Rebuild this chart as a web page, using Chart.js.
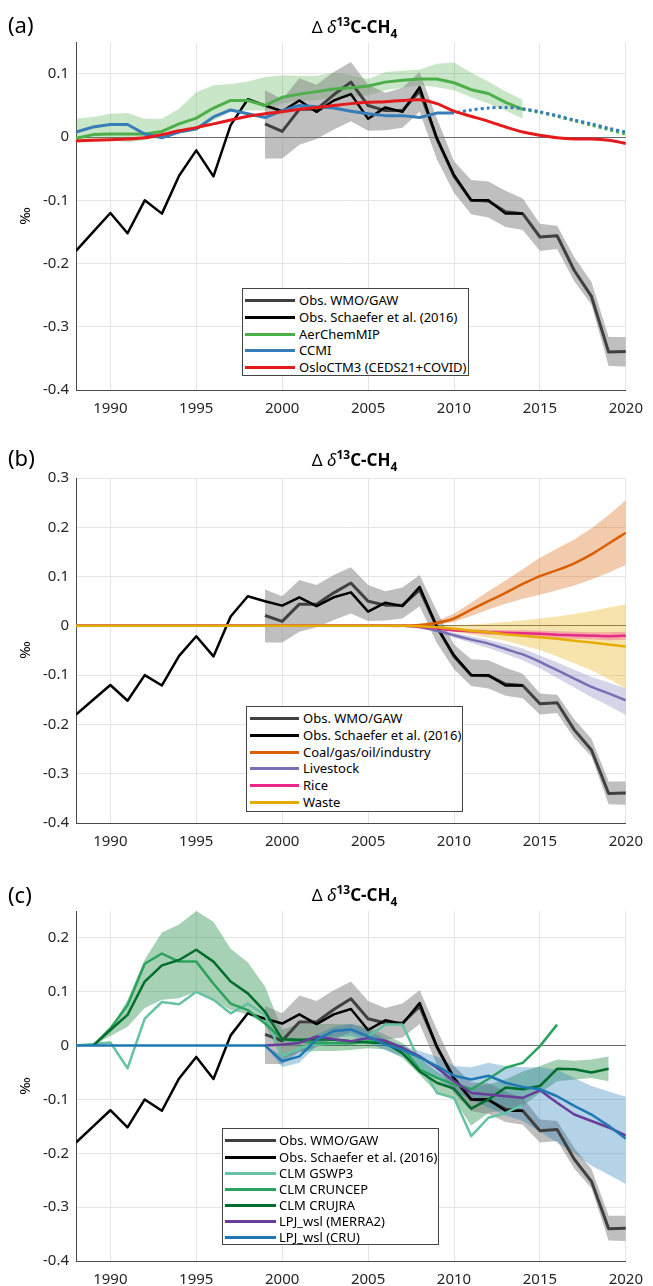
<!DOCTYPE html>
<html><head><meta charset="utf-8">
<script src="https://cdn.jsdelivr.net/npm/chart.js"></script>
<style>
html,body{margin:0;padding:0;background:#fff;}
body{width:653px;height:1286px;position:relative;overflow:hidden;font-family:"Noto Sans",sans-serif;color:#000;}
canvas{position:absolute;left:0;}
.lab{position:absolute;left:8px;font-size:22px;line-height:22px;}
.title{position:absolute;left:76px;width:557px;text-align:center;font-size:17px;line-height:20px;white-space:nowrap;}
.title sup,.title sub{font-size:12px;line-height:0;position:relative;vertical-align:baseline;}
.title sup{top:-0.6em;}
.title sub{top:0.4em;}
.unit{position:absolute;left:14px;width:20px;height:20px;line-height:20px;text-align:center;font-size:15px;transform:rotate(-90deg);}
.legend{position:absolute;background:#fff;border:1px solid #444;box-sizing:border-box;}
.legend .row{position:absolute;left:0;height:16px;display:flex;align-items:center;font-size:13px;white-space:nowrap;}
.legend .sw{height:3px;}
</style></head><body>
<canvas id="ca" width="653" height="425" style="top:0px;width:653px;height:425px"></canvas>
<canvas id="cb" width="653" height="425" style="top:430px;width:653px;height:425px"></canvas>
<canvas id="cc" width="653" height="426" style="top:860px;width:653px;height:426px"></canvas>

<div class="lab" style="top:13px">(a)</div>
<div class="lab" style="top:446px">(b)</div>
<div class="lab" style="top:883px">(c)</div>
<div class="title" style="top:17px"><span>Δ</span> <i>δ</i><b><sup>13</sup>C-CH<sub>4</sub></b></div>
<div class="title" style="top:450px"><span>Δ</span> <i>δ</i><b><sup>13</sup>C-CH<sub>4</sub></b></div>
<div class="title" style="top:885px"><span>Δ</span> <i>δ</i><b><sup>13</sup>C-CH<sub>4</sub></b></div>
<div class="unit" style="top:206px">‰</div>
<div class="unit" style="top:640px">‰</div>
<div class="unit" style="top:1076px">‰</div>
<div id="lega" class="legend"></div>
<div id="legb" class="legend"></div>
<div id="legc" class="legend"></div>

<script>
// ---------- categories / ticks ----------
const years = [1988,1989,1990,1991,1992,1993,1994,1995,1996,1997,1998,1999,2000,2001,2002,2003,2004,2005,2006,2007,2008,2009,2010,2011,2012,2013,2014,2015,2016,2017,2018,2019,2020];
const xTicks = [1990,1995,2000,2005,2010,2015,2020];
const yTicksA = [-0.4,-0.3,-0.2,-0.1,0,0.1];
const yTicksB = [-0.4,-0.3,-0.2,-0.1,0,0.1,0.2,0.3];
const yTicksC = [-0.4,-0.3,-0.2,-0.1,0,0.1,0.2];

// ---------- observations ----------
const obsSchaefer = [-0.180,-0.150,-0.120,-0.152,-0.100,-0.121,-0.061,-0.021,-0.062,0.019,0.060,0.050,0.041,0.058,0.040,0.058,0.068,0.029,0.047,0.040,0.079,-0.002,-0.060,-0.100,-0.100,-0.121,-0.121,null,null,null,null,null,null];
const obsWMO = [null,null,null,null,null,null,null,null,null,null,null,0.021,0.009,0.044,0.044,0.067,0.087,0.050,0.042,0.042,0.073,-0.002,-0.062,-0.100,-0.101,-0.118,-0.121,-0.158,-0.156,-0.211,-0.252,-0.340,-0.339];
const obsWMOHi = [null,null,null,null,null,null,null,null,null,null,null,0.074,0.060,0.093,0.083,0.103,0.119,0.083,0.070,0.078,0.103,0.030,-0.038,-0.068,-0.070,-0.085,-0.097,-0.137,-0.140,-0.190,-0.229,-0.316,-0.316];
const obsWMOLo = [null,null,null,null,null,null,null,null,null,null,null,-0.034,-0.034,-0.012,-0.003,0.012,0.025,0.010,0.011,0.015,0.040,-0.035,-0.088,-0.122,-0.127,-0.142,-0.147,-0.180,-0.177,-0.228,-0.265,-0.362,-0.363];

// ---------- panel (a) ----------
const aerLine = [-0.002,0.004,0.005,0.005,0.005,0.009,0.021,0.030,0.046,0.058,0.058,0.050,0.063,0.068,0.072,0.076,0.078,0.081,0.087,0.090,0.092,0.092,0.086,0.075,0.069,0.055,0.044,null,null,null,null,null,null];
const aerHi = [0.029,0.032,0.037,0.038,0.029,0.029,0.045,0.071,0.082,0.084,0.088,0.095,0.098,0.097,0.097,0.102,0.098,0.092,0.103,0.105,0.107,0.116,0.118,0.102,0.088,0.072,0.059,null,null,null,null,null,null];
const aerLo = [-0.005,-0.004,-0.004,-0.008,-0.005,0.000,0.006,0.013,0.026,0.040,0.042,0.042,0.053,0.058,0.058,0.063,0.063,0.066,0.074,0.078,0.082,0.079,0.074,0.063,0.053,0.042,0.029,null,null,null,null,null,null];
const aerDot = [null,null,null,null,null,null,null,null,null,null,null,null,null,null,null,null,null,null,null,null,null,null,null,null,null,null,0.044,0.039,0.033,0.026,0.019,0.012,0.005];
const ccmiLine = [0.008,0.016,0.020,0.020,0.005,-0.001,0.008,0.013,0.032,0.043,0.037,0.031,0.042,0.050,0.048,0.046,0.041,0.037,0.034,0.034,0.031,0.038,0.038,null,null,null,null,null,null,null,null,null,null];
const ccmiDot = [null,null,null,null,null,null,null,null,null,null,null,null,null,null,null,null,null,null,null,null,null,null,0.038,0.043,0.046,0.047,0.045,0.040,0.034,0.027,0.021,0.014,0.008];
const osloLine = [-0.006,-0.005,-0.004,-0.003,-0.001,0.004,0.010,0.015,0.021,0.027,0.033,0.037,0.040,0.044,0.047,0.050,0.053,0.055,0.056,0.058,0.059,0.053,0.041,0.033,0.025,0.016,0.008,0.003,-0.001,-0.003,-0.003,-0.005,-0.010];

// ---------- panel (b) ----------
const coalLine = [0,0,0,0,0,0,0,0,0,0,0,0,0,0,0,0,0,0,0,0,0.002,0.006,0.015,0.033,0.050,0.067,0.085,0.101,0.113,0.127,0.145,0.167,0.189];
const coalHi = [null,null,null,null,null,null,null,null,null,null,null,null,null,null,null,null,null,null,null,0,0.004,0.010,0.025,0.047,0.070,0.092,0.115,0.138,0.157,0.175,0.198,0.225,0.255];
const coalLo = [null,null,null,null,null,null,null,null,null,null,null,null,null,null,null,null,null,null,null,0,0,0.002,0.008,0.020,0.033,0.045,0.055,0.063,0.072,0.082,0.094,0.108,0.124];
const liveLine = [0,0,0,0,0,0,0,0,0,0,0,0,0,0,0,0,0,0,0,0,-0.003,-0.010,-0.019,-0.028,-0.036,-0.047,-0.058,-0.073,-0.090,-0.107,-0.124,-0.137,-0.151];
const liveHi = [null,null,null,null,null,null,null,null,null,null,null,null,null,null,null,null,null,null,null,0,-0.002,-0.007,-0.014,-0.021,-0.028,-0.037,-0.046,-0.060,-0.074,-0.089,-0.104,-0.115,-0.127];
const liveLo = [null,null,null,null,null,null,null,null,null,null,null,null,null,null,null,null,null,null,null,0,-0.004,-0.012,-0.024,-0.035,-0.045,-0.057,-0.070,-0.086,-0.106,-0.125,-0.145,-0.162,-0.181];
const riceLine = [0,0,0,0,0,0,0,0,0,0,0,0,0,0,0,0,0,0,0,0,-0.002,-0.005,-0.009,-0.011,-0.013,-0.014,-0.015,-0.016,-0.018,-0.019,-0.020,-0.021,-0.020];
const riceHi = [null,null,null,null,null,null,null,null,null,null,null,null,null,null,null,null,null,null,null,0,-0.001,-0.003,-0.006,-0.007,-0.008,-0.009,-0.009,-0.010,-0.011,-0.012,-0.013,-0.013,-0.012];
const riceLo = [null,null,null,null,null,null,null,null,null,null,null,null,null,null,null,null,null,null,null,0,-0.003,-0.007,-0.012,-0.015,-0.018,-0.019,-0.021,-0.022,-0.025,-0.026,-0.027,-0.029,-0.028];
const wasteLine = [0,0,0,0,0,0,0,0,0,0,0,0,0,0,0,0,0,0,0,0,-0.001,-0.003,-0.006,-0.010,-0.013,-0.017,-0.020,-0.023,-0.026,-0.030,-0.034,-0.038,-0.042];
const wasteHi = [null,null,null,null,null,null,null,null,null,null,null,null,null,null,null,null,null,null,null,0,0,0,0.001,0.003,0.005,0.008,0.011,0.015,0.019,0.024,0.030,0.037,0.044];
const wasteLo = [null,null,null,null,null,null,null,null,null,null,null,null,null,null,null,null,null,null,null,0,-0.003,-0.007,-0.012,-0.018,-0.024,-0.030,-0.040,-0.049,-0.062,-0.076,-0.090,-0.108,-0.127];

// ---------- panel (c) ----------
const clmGSWP3 = [0,0.003,0.006,-0.042,0.050,0.081,0.077,0.100,0.085,0.060,0.078,0.057,-0.020,-0.004,0.002,0.004,0.005,0.017,0.039,0.039,-0.030,-0.088,-0.097,-0.168,-0.134,-0.125,-0.110,null,null,null,null,null,null];
const clmCRUNCEP = [null,0,0.032,0.075,0.152,0.171,0.156,0.156,0.115,0.078,0.066,0.041,0.012,0.008,0.005,0.005,0.004,0.008,0.006,-0.004,-0.044,-0.060,-0.072,-0.081,-0.062,-0.041,-0.032,-0.001,0.039,null,null,null,null];
const clmCRUJRA = [null,0,0.029,0.057,0.119,0.149,0.159,0.178,0.156,0.119,0.097,0.063,0.012,0.011,0.012,0.011,0.008,0.006,0.005,-0.014,-0.048,-0.069,-0.080,-0.117,-0.100,-0.078,-0.081,-0.075,-0.043,-0.044,-0.050,-0.043,null];
const clmHi = [null,0,0.030,0.085,0.160,0.210,0.225,0.250,0.230,0.180,0.155,0.110,0.030,0.040,0.040,0.040,0.040,0.035,0.020,0.005,-0.023,-0.048,-0.066,-0.078,-0.072,-0.063,-0.048,-0.038,-0.026,-0.028,-0.026,-0.020,null];
const clmLo = [null,0,0.018,0.035,0.070,0.085,0.088,0.100,0.085,0.066,0.058,0.040,-0.025,-0.012,-0.010,-0.010,-0.008,-0.005,-0.007,-0.023,-0.054,-0.088,-0.100,-0.149,-0.125,-0.119,-0.112,-0.088,-0.066,-0.063,-0.060,-0.066,null];
const lpjMERRA2 = [null,null,null,null,null,null,null,null,null,null,null,0,0.002,0.005,0.017,0.012,0.008,0.014,0.009,-0.004,-0.020,-0.041,-0.066,-0.088,-0.091,-0.094,-0.097,-0.083,-0.106,-0.128,-0.140,-0.152,-0.167];
const lpjCRU = [0,0,0,0,0,0,0,0,0,0,0,0,-0.029,-0.020,0.011,0.027,0.030,0.017,0.002,-0.008,-0.022,-0.038,-0.056,-0.063,-0.056,-0.069,-0.077,-0.081,-0.094,-0.112,-0.128,-0.149,-0.173];
const lpjHi = [null,null,null,null,null,null,null,null,null,null,null,0,-0.018,-0.010,0.020,0.035,0.040,0.030,0.012,0.000,-0.010,-0.020,-0.038,-0.040,-0.032,-0.038,-0.040,-0.040,-0.045,-0.060,-0.075,-0.085,-0.095];
const lpjLo = [null,null,null,null,null,null,null,null,null,null,null,0,-0.040,-0.032,0.000,0.015,0.018,0.005,-0.008,-0.020,-0.040,-0.060,-0.085,-0.100,-0.115,-0.130,-0.140,-0.160,-0.180,-0.200,-0.223,-0.240,-0.257];

// ---------- legend labels ----------
const legendA = ['Obs. WMO/GAW','Obs. Schaefer et al. (2016)','AerChemMIP','CCMI','OsloCTM3 (CEDS21+COVID)'];
const legendB = ['Obs. WMO/GAW','Obs. Schaefer et al. (2016)','Coal/gas/oil/industry','Livestock','Rice','Waste'];
const legendC = ['Obs. WMO/GAW','Obs. Schaefer et al. (2016)','CLM GSWP3','CLM CRUNCEP','CLM CRUJRA','LPJ_wsl (MERRA2)','LPJ_wsl (CRU)'];

// ---------- colours ----------
const C = {
  wmo:'#404040', wmoBand:'rgba(128,128,128,0.5)', sch:'#000000',
  aer:'#4daf4a', aerBand:'rgba(77,175,74,0.3)', ccmi:'#377eb8', oslo:'#e41a1c',
  coal:'#d95f02', coalBand:'rgba(217,95,2,0.33)', live:'#7570b3', liveBand:'rgba(117,112,179,0.3)',
  rice:'#e7298a', riceBand:'rgba(231,41,138,0.3)', waste:'#e6ab02', wasteBand:'rgba(230,171,2,0.33)',
  gswp3:'#66c2a4', cruncep:'#2ca25f', crujra:'#006d2c', clmBand:'rgba(35,139,69,0.4)',
  merra2:'#6a3d9a', lpjcru:'#1f78b4', lpjBand:'rgba(31,120,180,0.33)'
};

function pts(vals){ return years.map((x,i)=>({x:x, y:vals[i]})); }
function line(vals,color,width,order,extra){
  return Object.assign({data:pts(vals),borderColor:color,backgroundColor:color,borderWidth:width,pointRadius:0,fill:false,tension:0,order:order,borderJoinStyle:'round'},extra||{});
}
function band(lo,hi,color,order){
  return [
    {data:pts(lo),borderWidth:0,borderColor:'rgba(0,0,0,0)',pointRadius:0,fill:false,order:order},
    {data:pts(hi),borderWidth:0,borderColor:'rgba(0,0,0,0)',backgroundColor:color,pointRadius:0,fill:'-1',order:order}
  ];
}

const FONT = {family:'"Noto Sans", sans-serif', size:15};
function makeChart(id, datasets, yMin, yMax, yTicks, canvasTop, canvasH, plotTop, plotBottom){
  const xH = 30;
  new Chart(document.getElementById(id), {
    type:'line',
    data:{datasets:datasets},
    options:{
      responsive:false, animation:false, events:[],
      layout:{padding:{left:0,right:20,top:plotTop-canvasTop,bottom:canvasH-(plotBottom-canvasTop)-xH}},
      plugins:{legend:{display:false},tooltip:{enabled:false},title:{display:false}},
      scales:{
        x:{type:'linear',min:1988,max:2020,
           afterBuildTicks:s=>{s.ticks=xTicks.map(v=>({value:v}));},
           afterFit:s=>{s.height=xH;},
           grid:{color:'#e4e4e4',drawTicks:false,lineWidth:1},
           border:{display:true,color:'#4a4a4a',width:1},
           ticks:{padding:10,font:FONT,color:'#262626',maxRotation:0,callback:v=>String(v)}},
        y:{type:'linear',min:yMin,max:yMax,
           afterBuildTicks:s=>{s.ticks=yTicks.map(v=>({value:v}));},
           afterFit:s=>{s.width=76;},
           grid:{color:c=>(c.tick && Math.abs(c.tick.value)<1e-9)?'#6a6a6a':'#e4e4e4',drawTicks:false,lineWidth:1},
           border:{display:true,color:'#4a4a4a',width:1},
           ticks:{padding:7,font:FONT,color:'#262626',callback:v=>String(Math.round(v*10)/10)}}
      }
    }
  });
}

// panel a
const dsA = [].concat(
  band(aerLo,aerHi,C.aerBand,30),
  band(obsWMOLo,obsWMOHi,C.wmoBand,29),
  [line(obsWMO,C.wmo,3,12),
   line(obsSchaefer,C.sch,2.5,11),
   line(aerLine,C.aer,3,10),
   line(aerDot,C.aer,3,9,{borderDash:[3,3],tension:0.3}),
   line(ccmiLine,C.ccmi,3,8),
   line(ccmiDot,C.ccmi,3,7,{borderDash:[3,3],borderDashOffset:3,tension:0.3}),
   line(osloLine,C.oslo,3,6,{tension:0.3})]
);
makeChart('ca',dsA,-0.4,0.15,yTicksA,0,425,42.3,390);

// panel b
const dsB = [].concat(
  band(obsWMOLo,obsWMOHi,C.wmoBand,34),
  band(coalLo,coalHi,C.coalBand,33),
  band(liveLo,liveHi,C.liveBand,32),
  band(wasteLo,wasteHi,C.wasteBand,31),
  band(riceLo,riceHi,C.riceBand,30),
  [line(obsWMO,C.wmo,3,12),
   line(obsSchaefer,C.sch,2.5,11),
   line(coalLine,C.coal,2.5,10,{tension:0.2}),
   line(liveLine,C.live,2.5,9,{tension:0.2}),
   line(riceLine,C.rice,2.5,8,{tension:0.2}),
   line(wasteLine,C.waste,2.5,7,{tension:0.2})]
);
makeChart('cb',dsB,-0.4,0.3,yTicksB,430,425,478,823);

// panel c
const dsC = [].concat(
  band(clmLo,clmHi,C.clmBand,32),
  band(obsWMOLo,obsWMOHi,C.wmoBand,31),
  band(lpjLo,lpjHi,C.lpjBand,30),
  [line(obsWMO,C.wmo,3,13),
   line(obsSchaefer,C.sch,2.5,12),
   line(clmGSWP3,C.gswp3,2.5,11),
   line(clmCRUNCEP,C.cruncep,2.5,10),
   line(clmCRUJRA,C.crujra,2.5,9),
   line(lpjMERRA2,C.merra2,2.5,8),
   line(lpjCRU,C.lpjcru,2.5,7)]
);
makeChart('cc',dsC,-0.4,0.25,yTicksC,860,426,911,1261);

// ---------- HTML legends ----------
function buildLegend(id, labels, colors, box, rowY, swX, swW, textX){
  const el = document.getElementById(id);
  el.style.left = box[0]+'px'; el.style.top = box[1]+'px';
  el.style.width = box[2]+'px'; el.style.height = box[3]+'px';
  labels.forEach((lab,i)=>{
    const r = document.createElement('div');
    r.className='row'; r.style.top=(rowY[i]-8)+'px';
    const sw = document.createElement('div');
    sw.className='sw'; sw.style.background=colors[i]; sw.style.width=swW+'px'; sw.style.marginLeft=swX+'px';
    sw.style.marginRight=(textX-swX-swW)+'px';
    const t = document.createElement('span'); t.textContent=lab;
    r.appendChild(sw); r.appendChild(t); el.appendChild(r);
  });
}
buildLegend('lega',legendA,[C.wmo,C.sch,C.aer,C.ccmi,C.oslo],[242,288,227,88],[11,28,45,61,78],2,50,56);
buildLegend('legb',legendB,[C.wmo,C.sch,C.coal,C.live,C.rice,C.waste],[246,706,217,106],[11,28,45,61,78,95],3,49,56);
buildLegend('legc',legendC,[C.wmo,C.sch,C.gswp3,C.cruncep,C.crujra,C.merra2,C.lpjcru],[222,1128,217,117],[11,28,44,60,76,92,108],2,51,56);
</script>
</body></html>
